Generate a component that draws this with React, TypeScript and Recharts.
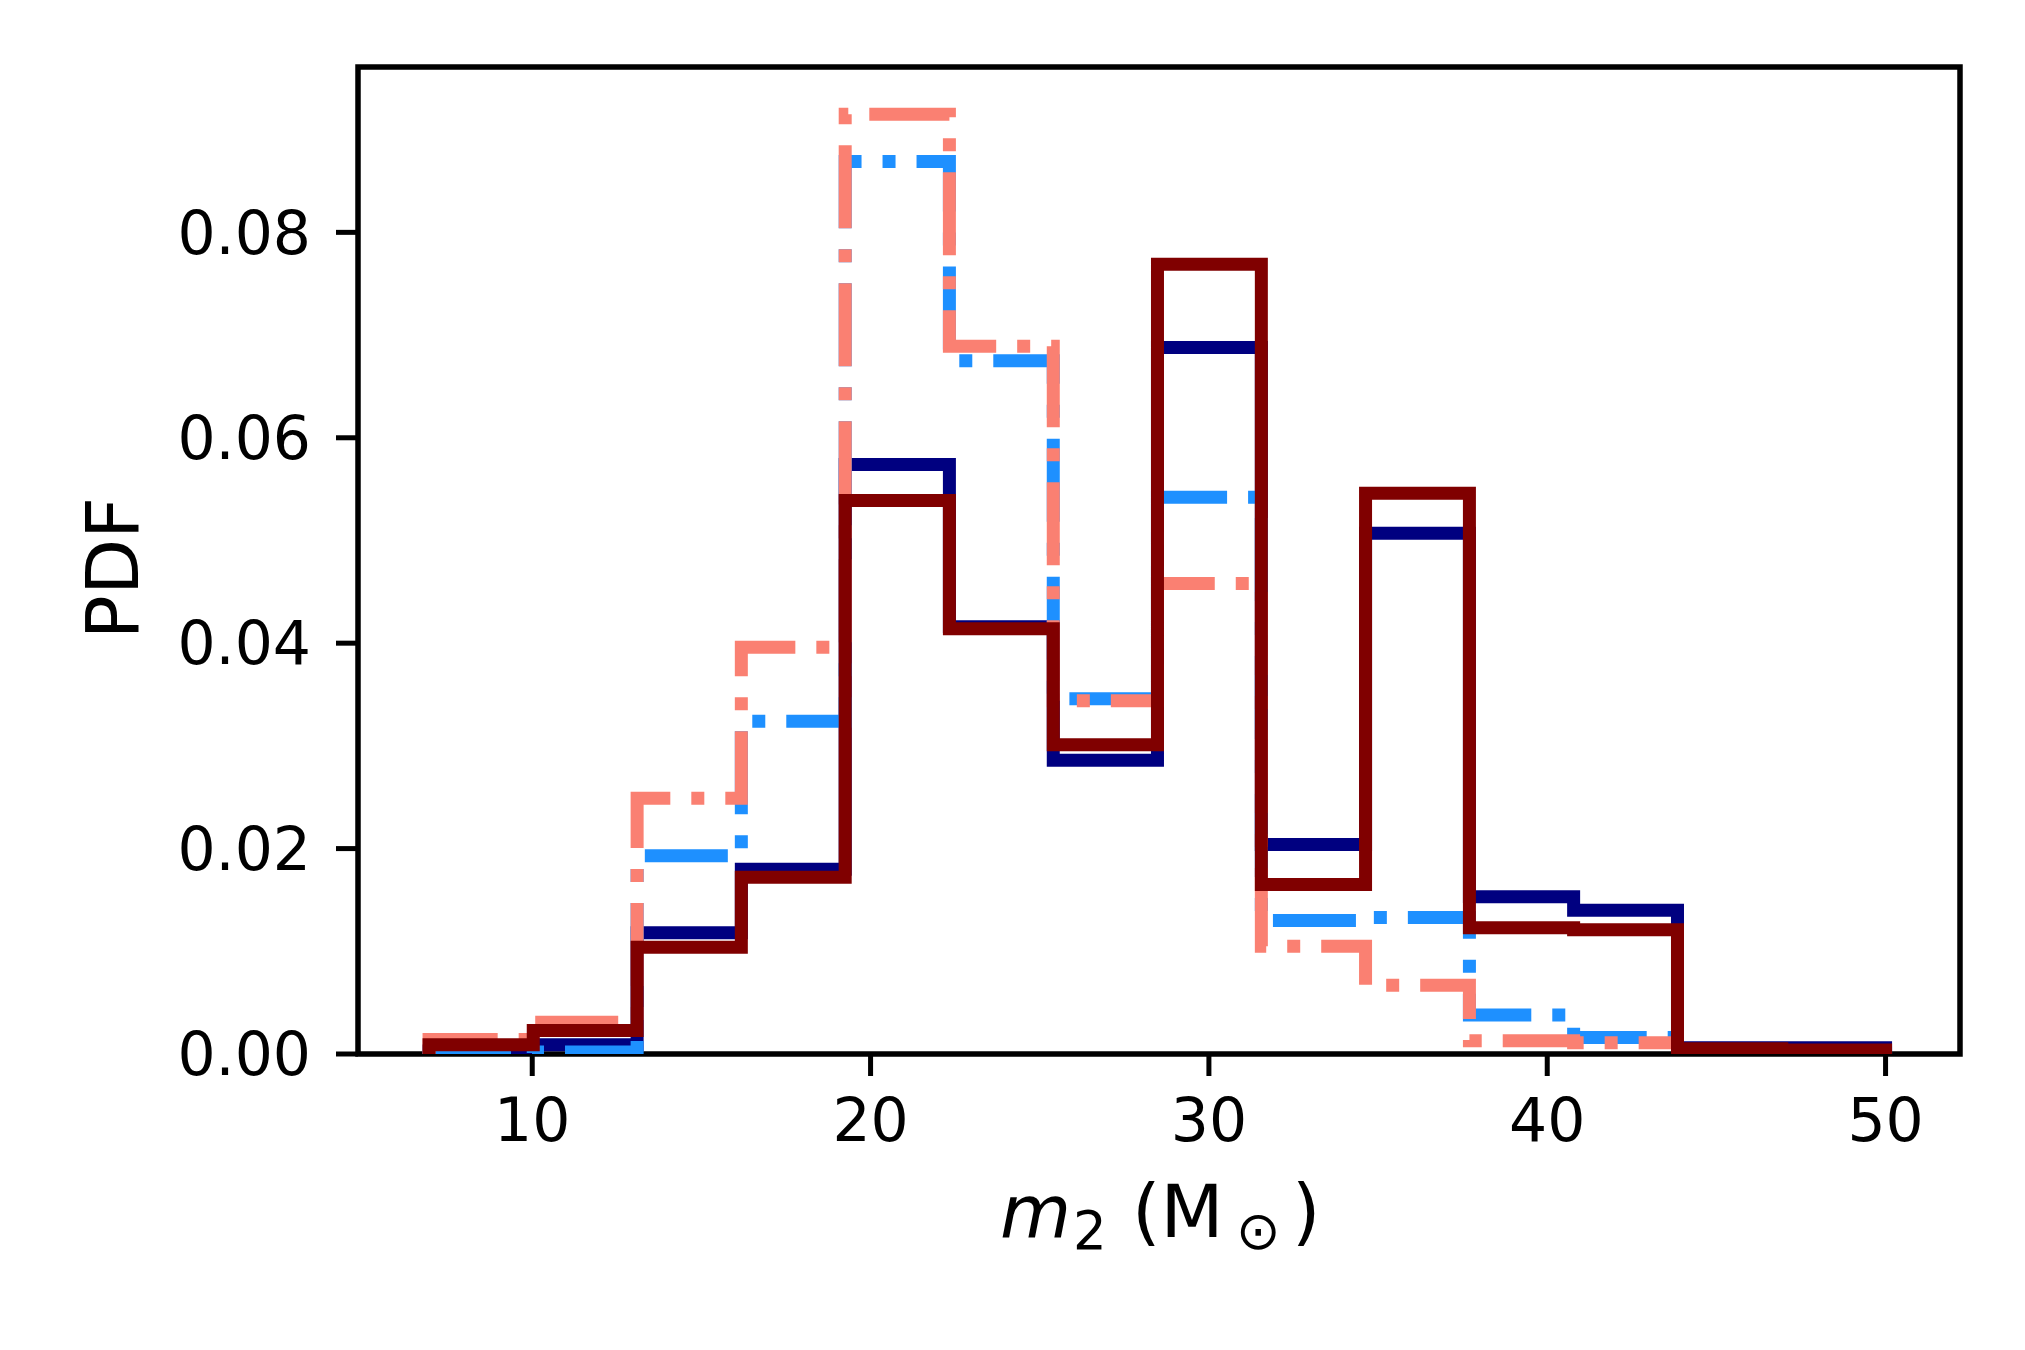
import { LineChart, Line, XAxis, YAxis, ReferenceArea } from "recharts";

// bin edges of the m2 histogram (Msun)
const binEdges = [6.95, 10.03, 13.1, 16.18, 19.25, 22.33, 25.4, 28.48, 31.55, 34.63, 37.7, 40.78, 43.85, 46.93, 50.0];

// PDF per bin, one array per run
const navyPdf = [0.0003, 0.0009, 0.0118, 0.018, 0.0574, 0.0416, 0.0286, 0.0688, 0.0204, 0.0507, 0.0153, 0.014, 0.0006, 0.0006];
const bluePdf = [0.0001, 0.0002, 0.0193, 0.0324, 0.0869, 0.0675, 0.0346, 0.0542, 0.013, 0.0133, 0.0038, 0.0016, 0.0002, 0.0001];
const salmonPdf = [0.0014, 0.0031, 0.0249, 0.0396, 0.0915, 0.0689, 0.0344, 0.0458, 0.0105, 0.0067, 0.0013, 0.0011, 0.0002, 0.0001];
const maroonPdf = [0.0009, 0.0023, 0.0104, 0.0172, 0.0539, 0.0414, 0.0301, 0.0769, 0.0165, 0.0546, 0.0123, 0.0121, 0.0005, 0.0004];

const xTicks = [10, 20, 30, 40, 50];
const yTicks = [0, 0.02, 0.04, 0.06, 0.08];

const series = [
    { key: "navy", values: navyPdf, color: "#000080", dash: undefined },
    { key: "blue", values: bluePdf, color: "#1e90ff", dash: "83 21 13 21" },
    { key: "salmon", values: salmonPdf, color: "#fa8072", dash: "83 21 13 21" },
    { key: "maroon", values: maroonPdf, color: "#800000", dash: undefined },
];

// step outline: start at 0, one point per left edge, close back to 0
function buildRows() {
    const n = binEdges.length - 1;
    const rows: Array<Record<string, number>> = [];
    const row = (x: number, pick: (v: number[]) => number) => {
        const r: Record<string, number> = { x };
        series.forEach((s) => (r[s.key] = pick(s.values)));
        rows.push(r);
    };
    row(binEdges[0], () => 0);
    for (let i = 0; i < n; i++) row(binEdges[i], (v) => v[i]);
    row(binEdges[n], (v) => v[n - 1]);
    row(binEdges[n], () => 0);
    return rows;
}

const rows = buildRows();
const FONT = "DejaVu Sans";
const X_DOMAIN: [number, number] = [4.85, 52.2];
const Y_DOMAIN: [number, number] = [0, 0.0961];

export default function App() {
    return (
        <div style={{ position: "absolute", left: 0, top: 0, width: 2025, height: 1350, background: "#fff" }}>
            <LineChart width={2025} height={1350} data={rows} margin={{ top: 67, right: 65, left: 58, bottom: 146 }}>
                <XAxis
                    dataKey="x"
                    type="number"
                    domain={X_DOMAIN}
                    allowDataOverflow
                    ticks={xTicks}
                    height={150}
                    axisLine={false}
                    tickSize={22}
                    tickMargin={22}
                    tickLine={{ stroke: "#000", strokeWidth: 5 }}
                    tick={{ fontFamily: FONT, fontSize: 60, fill: "#000" }}
                />
                <YAxis
                    type="number"
                    domain={Y_DOMAIN}
                    allowDataOverflow
                    ticks={yTicks}
                    width={300}
                    axisLine={false}
                    tickSize={22}
                    tickMargin={25}
                    tickLine={{ stroke: "#000", strokeWidth: 5 }}
                    tickFormatter={(v: number) => v.toFixed(2)}
                    tick={{ fontFamily: FONT, fontSize: 60, fill: "#000" }}
                />
                {series.map((s) => (
                    <Line
                        key={s.key}
                        dataKey={s.key}
                        type="stepAfter"
                        stroke={s.color}
                        strokeWidth={13}
                        strokeDasharray={s.dash}
                        strokeLinejoin="miter"
                        strokeLinecap="butt"
                        dot={false}
                        activeDot={false}
                        isAnimationActive={false}
                    />
                ))}
                <ReferenceArea
                    x1={X_DOMAIN[0]}
                    x2={X_DOMAIN[1]}
                    y1={Y_DOMAIN[0]}
                    y2={Y_DOMAIN[1]}
                    fill="none"
                    stroke="#000"
                    strokeWidth={5.5}
                    ifOverflow="visible"
                />
            </LineChart>
            <svg
                width={2025}
                height={1350}
                style={{ position: "absolute", left: 0, top: 0, pointerEvents: "none" }}
                fontFamily={FONT}
            >
                <text x={112} y={568} fontSize={73} textAnchor="middle" dominantBaseline="central" transform="rotate(-90 112 568)">
                    PDF
                </text>
                <text y={1237} fontSize={73}>
                    <tspan x={1000} fontStyle="italic">m</tspan>
                    <tspan x={1073} y={1249} fontSize={53}>2</tspan>
                    <tspan x={1132} y={1237}>(M</tspan>
                    <tspan x={1236} y={1249} fontSize={53}>⊙</tspan>
                    <tspan x={1292} y={1237}>)</tspan>
                </text>
            </svg>
        </div>
    );
}
